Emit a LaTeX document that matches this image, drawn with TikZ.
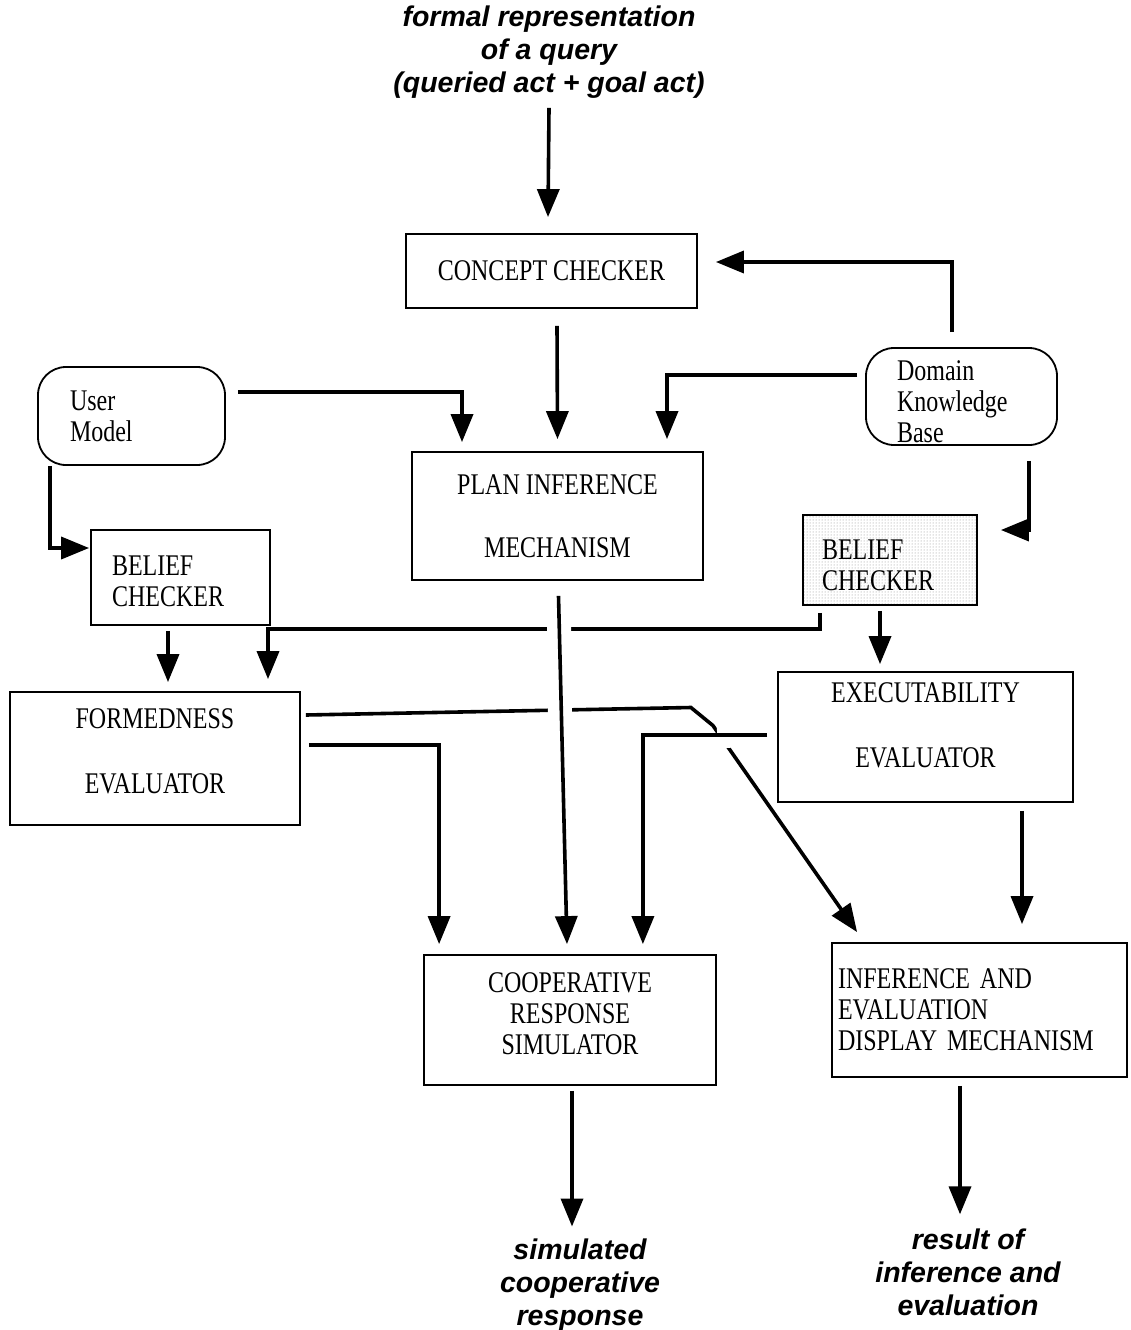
\documentclass[tikz,border=0pt]{standalone}
\usepackage{fontspec}
\setmainfont{Liberation Serif}[FakeStretch=0.8]
\newfontfamily\lblfont{Liberation Sans}
\usetikzlibrary{arrows.meta,calc,patterns}
\newcommand\boxfont{\fontsize{30}{31}\selectfont}
\newcommand\lblstyle{\lblfont\bfseries\itshape\fontsize{28.5}{33}\selectfont}
\begin{document}
\begin{tikzpicture}[x=1pt,y=-1pt,
  box/.style={draw, line width=1.8pt, inner sep=0pt, font=\boxfont, align=center},
  lbox/.style={draw, line width=1.8pt, inner ysep=0pt, font=\boxfont, align=left},
  rbox/.style={lbox, rounded corners=28pt},
  lbl/.style={inner sep=0pt, font=\lblstyle, align=center},
  arr/.style={-{Triangle[length=28pt,width=22pt]}, line width=3.6pt},
  halo/.style={white, line width=24pt}]
\fill[white] (0,0) rectangle (1130,1330);
\useasboundingbox (0,0) rectangle (1130,1330);

% nodes
\node[lbl] (q) at (549,52.5) {formal representation\\of a query\\(queried act + goal act)};
\node[box, minimum width=291pt, minimum height=74pt] (cc) at (551.5,271) {CONCEPT CHECKER};
\node[rbox, text width=123pt, inner xsep=32pt, minimum height=98pt] (um) at (131.5,416) {User\\Model};
\node[box, minimum width=291pt, minimum height=128pt] (pim) at (557.5,516) {PLAN INFERENCE\\[32pt]MECHANISM};
\node[rbox, text width=129pt, inner xsep=31pt, minimum height=97pt, text height=31pt] (dkb) at (961.5,396.5) {Domain\\Knowledge\\Base};
\node[lbox, text width=137pt, inner xsep=21pt, minimum height=95pt, text height=28pt] (bcl) at (180.5,577.5) {BELIEF\\CHECKER};
\node[lbox, text width=136pt, inner xsep=19pt, minimum height=90pt, text depth=20pt,
      pattern=dots, pattern color=black!45] (bcr) at (890,560) {BELIEF\\CHECKER};
\node[box, minimum width=290pt, minimum height=133pt, text depth=14pt] (fe) at (155,758.5) {FORMEDNESS\\[34pt]EVALUATOR};
\node[box, minimum width=295pt, minimum height=130pt, text depth=24pt] (ee) at (925.5,737) {EXECUTABILITY\\[34pt]EVALUATOR};
\node[box, minimum width=292pt, minimum height=130pt, text depth=12pt] (crs) at (570,1020) {COOPERATIVE\\RESPONSE\\SIMULATOR};
\node[lbox, text width=283pt, inner xsep=6pt, minimum height=134pt] (ied) at (979.5,1010) {INFERENCE AND\\EVALUATION\\DISPLAY MECHANISM};
\node[lbl] (o1) at (580,1285) {simulated\\cooperative\\response};
\node[lbl] (o2) at (968,1272) {result of\\inference and\\evaluation};

% connectors
\draw[arr] ($(q.south)+(0,9)$) -- ($(cc.north)+(-3.5,-16)$);
\draw[arr] ($(dkb.north)+(-9.5,-15)$) |- ($(cc.east)+(18,-9)$);
\draw[arr] ($(cc.south)+(5.5,17)$) -- ($(pim.north)+(0,-12)$);
\draw[arr] ($(um.east)+(12,-24)$) -| ($(pim.north)+(-95.5,-9)$);
\draw[arr] ($(dkb.west)+(-8,-21.5)$) -| ($(pim.north)+(109.5,-12)$);
\draw[arr] ($(dkb.south)+(67.5,15)$) |- ($(bcr.east)+(23,-30)$);
\draw[arr] ($(um.south)+(-81.5,0)$) |- ($(bcl.west)+(-1,-29.5)$);
\draw[arr] ($(bcl.south)+(-12.5,5)$) -- ($(fe.north)+(13,-9)$);
\draw[arr] ($(bcr.south)+(-70,7)$) |- ($(fe.north)+(113,-62)$) -- ($(fe.north)+(113,-12)$);
\draw[arr] ($(bcr.south)+(-10,5)$) -- ($(ee.north)+(-45.5,-7)$);
\draw[arr] ($(fe.east)+(5,-43.5)$) -- ($(fe.east)+(390,-51)$) -- ($(fe.east)+(412,-33)$) -- ($(ied.north west)+(26,-10)$);
\draw[arr] ($(fe.east)+(8,-13.5)$) -| ($(crs.north west)+(16,-10)$);
% gap where the plan inference line crosses
\draw[halo] ($(pim.south)+(1.5,40)$) -- ($(pim.south)+(2.5,145)$);
\draw[arr] ($(pim.south)+(1,15)$) -- ($(crs.north)+(-3,-10)$);
% gap in diagonal where executability line crosses
\draw[halo] ($(ee.west)+(-10,-2)$) -- ($(ee.west)+(-60,-1)$);
\draw[arr] ($(ee.west)+(-10,-2)$) -| ($(crs.north east)+(-74,-10)$);
\draw[arr] ($(ee.south)+(96.5,8)$) -- ($(ied.north)+(42.5,-18)$);
\draw[arr] ($(crs.south)+(2,5)$) -- ($(o1.north)+(-8,-12)$);
\draw[arr] ($(ied.south)+(-19.5,8)$) -- ($(o2.north)+(-8,-14)$);
\end{tikzpicture}
\end{document}
